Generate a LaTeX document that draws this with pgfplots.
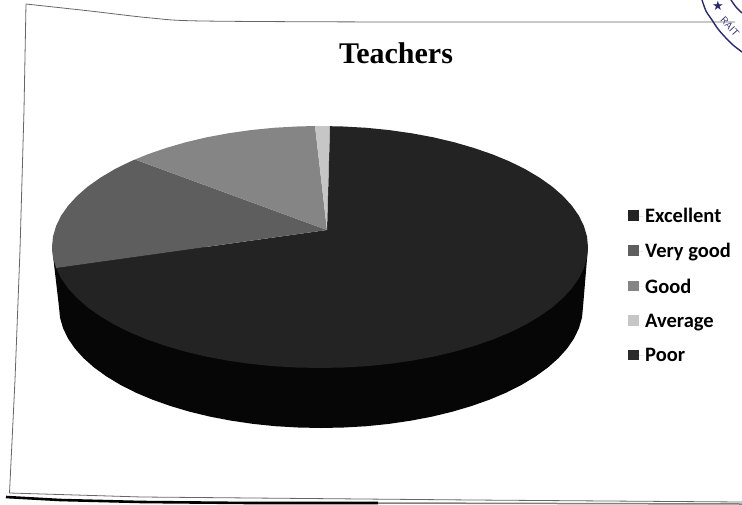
\documentclass[border=0pt]{standalone}
\usepackage{pgfplots}
\usepackage{fontspec}
\setmainfont{Liberation Serif}
\newfontfamily\legfont{Carlito}
\newfontfamily\symfont{DejaVu Sans}
\pgfplotsset{compat=1.18}
\definecolor{wexc}{HTML}{232323}
\definecolor{wside}{HTML}{060606}
\definecolor{wvg}{HTML}{5E5E5E}
\definecolor{wgood}{HTML}{858585}
\definecolor{wavg}{HTML}{C6C6C6}
\definecolor{wpoor}{HTML}{2B2B2B}
\definecolor{seal}{HTML}{2A2A6A}
\begin{document}
\begin{tikzpicture}
\begin{axis}[
  anchor=south west, at={(0pt,0pt)},
  scale only axis, width=742pt, height=504pt,
  xmin=0, xmax=742, ymin=0, ymax=504, y dir=reverse,
  axis lines=none, clip=true,
  legend cell align=left,
  legend style={at={(axis cs:628,206)}, anchor=north west, draw=none, fill=none,
    font=\legfont\bfseries\fontsize{20.5}{22}\selectfont, row sep=15.4pt, inner sep=0pt},
  legend image code/.code={\fill[#1] (0pt,-4.5pt) rectangle (11pt,6pt); \path (0pt,0pt) -- (15pt,0pt);},
]
% sheet edges
\addplot[forget plot, gray!80!black, line width=0.8pt, smooth] coordinates {(735,22) (400,22) (203,21) (151,18) (90,11) (26,4)};
\addplot[forget plot, gray!80!black, line width=0.8pt] coordinates {(26,4) (24,110) (20,250) (15,380) (9.5,493) (142,497) (473,500) (742,502)};
\addplot[forget plot, black, line width=2.6pt] coordinates {(6,497) (60,500) (142,502) (250,503) (378,503)};
\addplot[forget plot, gray, line width=1.5pt] coordinates {(378,503) (742,504)};
% seal in the corner
\addplot[forget plot, seal, line width=1.4pt, smooth] coordinates {(702,0) (706,11) (712,20) (718,29) (725,37) (733,45) (742,52)};
\addplot[forget plot, seal, line width=1.4pt, smooth] coordinates {(731,0) (736,7) (742,13)};
\node[text=seal, font=\symfont\fontsize{13}{13}\selectfont] at (axis cs:718,6) {★};
\node[text=seal, font=\sffamily\fontsize{10}{10}\selectfont, rotate=-48] at (axis cs:730,27) {RAIT};
% pie side
\addplot[forget plot, fill=wside, draw=none] coordinates {
 (52,247) (59,307) (60,317.5) (63,328) (67.9,338.3) (74.8,348.4) (83.5,358.1) (94.1,367.5)
 (106.4,376.4) (120.3,384.8) (135.7,392.6) (152.6,399.7) (170.7,406.1) (190,411.8) (210.3,416.7)
 (231.4,420.7) (253.2,423.9) (275.5,426.2) (298.2,427.5) (321,428) (343.8,427.5) (366.5,426.2)
 (388.8,423.9) (410.6,420.7) (431.7,416.7) (452,411.8) (471.3,406.1) (489.4,399.7) (506.3,392.6)
 (521.7,384.8) (535.6,376.4) (547.9,367.5) (558.5,358.1) (567.2,348.4) (574.1,338.3) (579,328)
 (582,317.5) (583,307) (588,247)};
% Excellent
\addplot[fill=wexc, draw=none] coordinates {
 (327,230) (330,126.2) (343.4,126.5) (366.5,127.8) (389.4,130.1) (411.7,133.3) (433.3,137.3) (454,142.2)
 (473.7,147.9) (492.3,154.3) (509.5,161.4) (525.3,169.2) (539.5,177.6) (552.1,186.5) (562.9,195.9)
 (571.8,205.6) (578.9,215.7) (583.9,226) (587,236.5) (588,247) (587,257.5) (583.9,268) (578.9,278.3)
 (571.8,288.4) (562.9,298.1) (552.1,307.5) (539.5,316.4) (525.3,324.8) (509.5,332.6) (492.3,339.7)
 (473.7,346.1) (454,351.8) (433.3,356.7) (411.7,360.7) (389.4,363.9) (366.5,366.2) (343.4,367.5)
 (320,368) (296.6,367.5) (273.5,366.2) (250.6,363.9) (228.3,360.7) (206.7,356.7) (186,351.8)
 (166.3,346.1) (147.7,339.7) (130.5,332.6) (114.7,324.8) (100.5,316.4) (87.9,307.5) (77.1,298.1)
 (68.2,288.4) (61.1,278.3) (56.1,268)};
% Very good
\addplot[fill=wvg, draw=none] coordinates {
 (327,230) (56.1,268) (53,257.5) (52,247) (53,236.5) (56.1,226) (61.1,215.7) (68.2,205.6) (77.1,195.9)
 (87.9,186.5) (100.5,177.6) (114.7,169.2) (130.5,161.4) (135,159.5)};
% Good
\addplot[fill=wgood, draw=none] coordinates {
 (327,230) (135,159.5) (147.7,154.3) (166.3,147.9) (186,142.2) (206.7,137.3) (228.3,133.3) (250.6,130.1)
 (273.5,127.8) (296.6,126.5) (315,126)};
% Average
\addplot[fill=wavg, draw=none] coordinates {(327,230) (315,126) (330,126.2)};
% Poor: no visible slice
\addplot[fill=wpoor, draw=none] coordinates {(327,230) (330,126.2)};
\legend{Excellent,Very good,Good,Average,Poor}
\node[font=\bfseries\fontsize{30}{30}\selectfont] at (axis cs:396,53) {Teachers};
\end{axis}
\path (0pt,0pt) rectangle (742pt,504pt);
\end{tikzpicture}
\end{document}
